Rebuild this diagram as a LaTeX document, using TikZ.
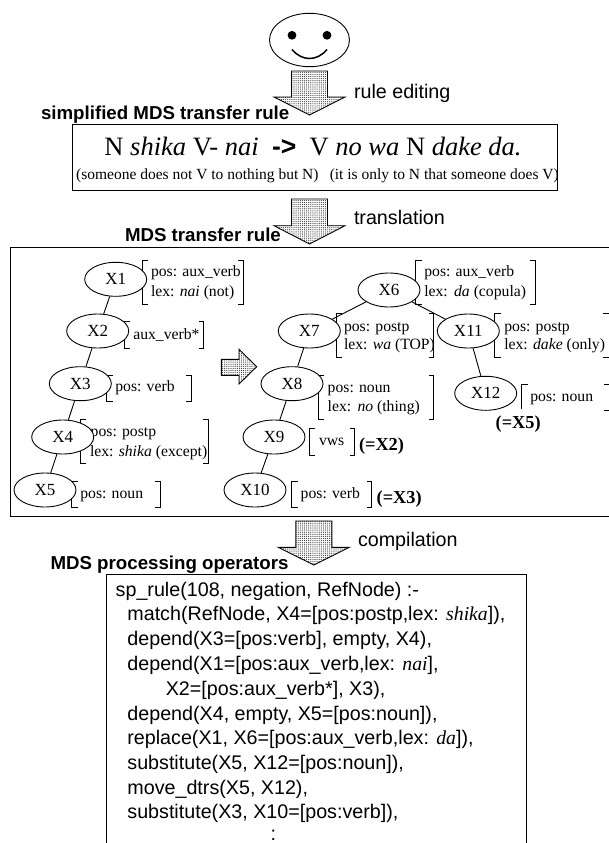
\documentclass[tikz,border=0pt]{standalone}
\usepackage{fontspec}
\setmainfont{Liberation Serif}
\setsansfont{Liberation Sans}
\usetikzlibrary{patterns.meta,shapes.geometric}
\tikzset{
  every picture/.style={x=1bp,y=-1bp,line width=0.9bp},
  tx/.style={anchor=base west,inner sep=0pt,outer sep=0pt,font=\fontsize{15.7bp}{15.7bp}\selectfont},
  sn/.style={anchor=base west,inner sep=0pt,outer sep=0pt,font=\sffamily\fontsize{19.7bp}{19.7bp}\selectfont},
  ttl/.style={anchor=base west,inner sep=0pt,outer sep=0pt,font=\sffamily\bfseries\fontsize{18.7bp}{18.7bp}\selectfont},
  eq/.style={anchor=base west,inner sep=0pt,outer sep=0pt,font=\bfseries\fontsize{18.3bp}{18.3bp}\selectfont},
  nd/.style={draw,fill=white,ellipse,minimum width=62bp,minimum height=34bp,inner sep=0pt,font=\fontsize{17bp}{17bp}\selectfont},
  dotfill/.style={draw,preaction={fill=white},pattern={Dots[distance=2.1bp,radius=0.62bp]},pattern color=black!75},
  box/.style={draw,line width=0.9bp},
}
\newcommand{\brk}[4]{\draw (#1+6,#3) -- (#1,#3) -- (#1,#4) -- (#1+6,#4); \draw (#2-5,#3) -- (#2,#3) -- (#2,#4) -- (#2-5,#4);}
\newcommand{\dnarrow}[4]{\path[dotfill] (#1-18,#2) -- (#1+18,#2) -- (#1+18,#3) -- (#1+35.5,#3) -- (#1,#4) -- (#1-35.5,#3) -- (#1-18,#3) -- cycle;}
\newcommand{\tms}[1]{{\rmfamily\itshape #1}}
\begin{document}
\begin{tikzpicture}
\useasboundingbox (0,0) rectangle (609,843);
\fill[white] (0,0) rectangle (609,843);
% face
\node[draw,ellipse,minimum width=80bp,minimum height=53.4bp,inner sep=0pt] (face) at (309.5,40) {};
\fill (292,35.3) circle (4.4bp);
\fill (327,35.3) circle (4.4bp);
\draw[line width=1.5bp] (292,49.5) .. controls (302,61.5) and (317,61.5) .. (327,49.5);
% box 1
\node[box,minimum width=484.5bp,minimum height=66.3bp,inner sep=0pt,anchor=north west] (rulebox) at (72,123.7) {};
\dnarrow{309.5}{71}{97}{115}
\node[sn] (lab1) at (354,98) {rule editing};
\node[ttl] (t1) at (41,119) {simplified MDS transfer rule};
\node[anchor=base west,inner sep=0pt,font=\fontsize{26.5bp}{26.5bp}\selectfont] (r1) at (104,155.7) {N \textit{shika} V- \textit{nai}\hspace{0.5em}{\sffamily\bfseries ->}\hspace{0.5em}V \textit{no wa} N \textit{dake da.}};
\node[anchor=base west,inner sep=0pt,font=\fontsize{15.5bp}{15.5bp}\selectfont] (r2) at (75.7,179) {(someone does not V to nothing but N)};
\node[anchor=base west,inner sep=0pt,font=\fontsize{15.5bp}{15.5bp}\selectfont] (r3) at (329.3,179) {(it is only to N that someone does V)};
% big box (its right side lies past the page edge)
\node[box,minimum width=604bp,minimum height=268.7bp,inner sep=0pt,anchor=north west] (bigbox) at (9.5,247.3) {};
\dnarrow{309.5}{199}{225.7}{244}
\node[sn] (lab2) at (354,224) {translation};
\node[ttl] (t2) at (125,241) {MDS transfer rule};
% brackets and feature texts
\brk{142}{243.3}{260.7}{304}
\node[tx] (f1a) at (151,276.7) {pos: aux\_verb};
\node[tx] (f1b) at (151,296.7) {lex: \textit{nai} (not)};
\brk{124.3}{203.7}{321.7}{348.3}
\node[tx] (f2) at (133.3,339) {aux\_verb*};
\brk{106.7}{191}{375}{401.7}
\node[tx] (f3) at (115.3,391.7) {pos: verb};
\brk{80.3}{208.3}{419.3}{463.3}
\node[tx] (f4a) at (90.7,436.7) {pos: postp};
\node[tx] (f4b) at (90,456) {lex: \textit{shika} (except)};
\brk{71.7}{160}{481}{507.7}
\node[tx] (f5) at (80.3,498) {pos: noun};
\brk{415.7}{535}{260.7}{304}
\node[tx] (f6a) at (424.3,276.7) {pos: aux\_verb};
\node[tx] (f6b) at (424.3,296) {lex:\hspace{0.4em}\textit{da} (copula)};
\brk{336}{433.7}{313.3}{357.3}
\node[tx] (f7a) at (344,331) {pos: postp};
\node[tx] (f7b) at (344,349.3) {lex: \textit{wa} (TOP)};
\draw (500.7,313.3) -- (494.7,313.3) -- (494.7,357.3) -- (500.7,357.3);
\draw (603,313.3) -- (612,313.3);
\draw (603,357.3) -- (612,357.3);
\node[tx] (f11a) at (504.3,331) {pos: postp};
\node[tx] (f11b) at (504.3,349.3) {lex: \textit{dake} (only)};
\brk{318.3}{433.7}{375}{419}
\node[tx] (f8a) at (327.7,392) {pos: noun};
\node[tx] (f8b) at (327.7,411) {lex:\hspace{0.4em}\textit{no} (thing)};
\brk{309.3}{354.7}{428.3}{455}
\node[tx] (f9) at (319,445) {vws};
\node[eq] (e2) at (359,450) {(=X2)};
\brk{291.7}{371.7}{481}{507.7}
\node[tx] (f10) at (300.7,498) {pos: verb};
\node[eq] (e3) at (376.7,503) {(=X3)};
\draw (527.7,384) -- (521.7,384) -- (521.7,409);
\draw (604,384) -- (612,384);
\draw (604,410) -- (612,410);
\node[tx] (f12) at (530.3,401) {pos: noun};
% edges and nodes
\node[nd] (X1) at (115.7,279.3) {X1};
\node[nd] (X2) at (97.7,331) {X2};
\node[nd] (X3) at (80.3,383.7) {X3};
\node[nd] (X4) at (62.7,437) {X4};
\node[nd] (X5) at (45,490) {X5};
\node[nd] (X6) at (389,290) {X6};
\node[nd] (X7) at (309.3,331) {X7};
\node[nd] (X8) at (292,383.7) {X8};
\node[nd] (X9) at (274,437) {X9};
\node[nd] (X10) at (255,490) {X10};
\node[nd] (X11) at (468.3,331) {X11};
\node[nd] (X12) at (485.7,393.3) {X12};
\draw (X1) -- (X2);
\draw (X2) -- (X3);
\draw (X3) -- (X4);
\draw (X4) -- (X5);
\draw (X6) -- (X7);
\draw (X6) -- (X11);
\draw (X7) -- (X8);
\draw (X8) -- (X9);
\draw (X9) -- (X10);
\draw (X11) -- (X12);
\node[eq] (e5) at (495.7,428) {(=X5)};
% horizontal arrow
\path[dotfill] (221.3,359.3) -- (239,359.3) -- (239,349.3) -- (256.7,366.7) -- (239,384) -- (239,375.3) -- (221.3,375.3) -- cycle;
% box 3
\coordinate (bl) at (106.8,850);
\coordinate (br) at (526,850);
\draw (bl) -- (106.8,574) -- (526,574) -- (br);
\dnarrow{313.8}{521}{547.3}{565}
\node[sn] (lab3) at (358,546) {compilation};
\node[ttl] (t3) at (50.5,569.3) {MDS processing operators};
\node[sn] (c1) at (115.7,596) {sp\_rule(108, negation, RefNode) :-};
\node[sn] (c2) at (127.4,620.7) {match(RefNode, X4=[pos:postp,lex: \tms{shika}]),};
\node[sn] (c3) at (127.4,645.7) {depend(X3=[pos:verb], empty, X4),};
\node[sn] (c4) at (127.4,670) {depend(X1=[pos:aux\_verb,lex: \tms{nai}],};
\node[sn] (c5) at (165.8,695.7) {X2=[pos:aux\_verb*], X3),};
\node[sn] (c6) at (127.4,720) {depend(X4, empty, X5=[pos:noun]),};
\node[sn] (c7) at (127.4,744.3) {replace(X1, X6=[pos:aux\_verb,lex: \tms{da}]),};
\node[sn] (c8) at (127.4,769.3) {substitute(X5, X12=[pos:noun]),};
\node[sn] (c9) at (127.4,794) {move\_dtrs(X5, X12),};
\node[sn] (c10) at (127.4,818.3) {substitute(X3, X10=[pos:verb]),};
\node[sn] (c11) at (270.5,840) {:};
\end{tikzpicture}
\end{document}
